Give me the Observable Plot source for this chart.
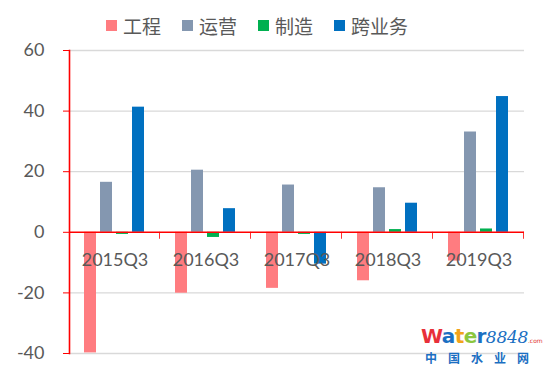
<!DOCTYPE html>
<html>
<head>
<meta charset="utf-8">
<script src="https://cdn.jsdelivr.net/npm/d3@7"></script>
<script src="https://cdn.jsdelivr.net/npm/@observablehq/plot@0.6"></script>
<style>
  html, body { margin: 0; padding: 0; background: #fff; }
  #wrap { position: relative; width: 550px; height: 374px; overflow: hidden; }
  #legend { position: absolute; top: 12px; left: 106px; display: flex; align-items: center; height: 26px;
    font-family: "Noto Sans CJK SC", sans-serif; font-size: 19px; color: #595959; }
  #legend .item { display: flex; align-items: center; margin-right: 21px; }
  #legend .sw { width: 11px; height: 11px; margin-right: 6px; }
  #logo { position: absolute; left: 421px; top: 326px; width: 129px; font-family: "DejaVu Sans", sans-serif; }
  #logo .l1 { font-weight: bold; font-size: 20px; line-height: 21px; white-space: nowrap; letter-spacing: -0.6px; }
  #logo .l1 .n { font-family: "DejaVu Serif", serif; font-style: italic; font-weight: normal; color: #1b6fc2; font-size: 17px; letter-spacing: -0.3px; }
  #logo .l1 .c { font-size: 6px; color: #e03030; font-weight: normal; letter-spacing: 0; }
  #logo .l2 { font-family: "Noto Sans CJK SC", sans-serif; color: #1b6fc2; font-size: 12px; font-weight: bold; letter-spacing: 11px; line-height: 14px; margin-left: 4px; white-space: nowrap; }
</style>
</head>
<body>
<div id="wrap">
  <div id="chart"></div>
  <div id="legend"></div>
  <div id="logo"><div class="l1"><span style="color:#e8303a">W</span><span style="color:#1b6fc2">a</span><span style="color:#f2a31b">t</span><span style="color:#8cc63e">e</span><span style="color:#1b6fc2">r</span><span class="n">8848</span><span class="c">.com</span></div><div class="l2">中国水业网</div></div>
</div>
<script>
const quarters = ["2015Q3", "2016Q3", "2017Q3", "2018Q3", "2019Q3"];
const series = ["工程", "运营", "制造", "跨业务"];
const engineering = [-39.8, -20.1, -18.5, -16.0, -9.5];
const operation = [16.5, 20.5, 15.6, 14.7, 33.1];
const manufacturing = [-0.7, -1.7, -0.7, 0.9, 1.1];
const crossBusiness = [41.3, 7.8, -10.5, 9.6, 44.8];
const yTicks = [-40, -20, 0, 20, 40, 60];
const colors = ["#FF7C80", "#8497B0", "#00B050", "#0070C0"];

const valuesBySeries = [engineering, operation, manufacturing, crossBusiness];
const rows = [];
quarters.forEach((q, i) => {
  series.forEach((s, j) => rows.push({quarter: q, series: s, value: valuesBySeries[j][i]}));
});

const W = 550, H = 374, mL = 67, mR = 24, mT = 50, mB = 21;
const facetW = (W - mL - mR) / quarters.length;

const chart = Plot.plot({
  width: W, height: H,
  marginTop: mT, marginBottom: mB, marginLeft: mL, marginRight: mR,
  style: {fontFamily: "Lato, 'Open Sans', sans-serif", fontSize: "18px", color: "#595959", background: "transparent"},
  fx: {domain: quarters, padding: 0, axis: null},
  x: {domain: series, paddingInner: 0.22, paddingOuter: 0.86, axis: null},
  y: {domain: [-40, 60], axis: null},
  color: {domain: series, range: colors},
  marks: [
    Plot.gridY(yTicks.filter(d => d !== 0), {stroke: "#d9d9d9", strokeOpacity: 1, strokeWidth: 1.3}),
    Plot.barY(rows, {fx: "quarter", x: "series", y: "value", fill: "series"}),
    Plot.ruleY([0], {stroke: "red", strokeWidth: 1.6}),
    Plot.rect(quarters, {fx: d => d, y1: 0, y2: -2.3, insetLeft: facetW - 1.6, fill: "red"}),
    Plot.frame({anchor: "left", stroke: "red", strokeWidth: 1.6, facetAnchor: "left"}),
    Plot.axisY({ticks: yTicks, tickSize: 6, tickFormat: d => String(d), stroke: "red", fill: "#595959",
      tickPadding: 19, fontSize: 18, label: null}),
    Plot.text(quarters, {fx: d => d, text: d => d, y: () => 0, dy: 28, fill: "#595959", fontSize: 18})
  ]
});
document.getElementById("chart").appendChild(chart);

const legend = document.getElementById("legend");
series.forEach((s, i) => {
  const item = document.createElement("div");
  item.className = "item";
  const sw = document.createElement("span");
  sw.className = "sw";
  sw.style.background = colors[i];
  const t = document.createElement("span");
  t.textContent = s;
  item.appendChild(sw);
  item.appendChild(t);
  legend.appendChild(item);
});
</script>
</body>
</html>
